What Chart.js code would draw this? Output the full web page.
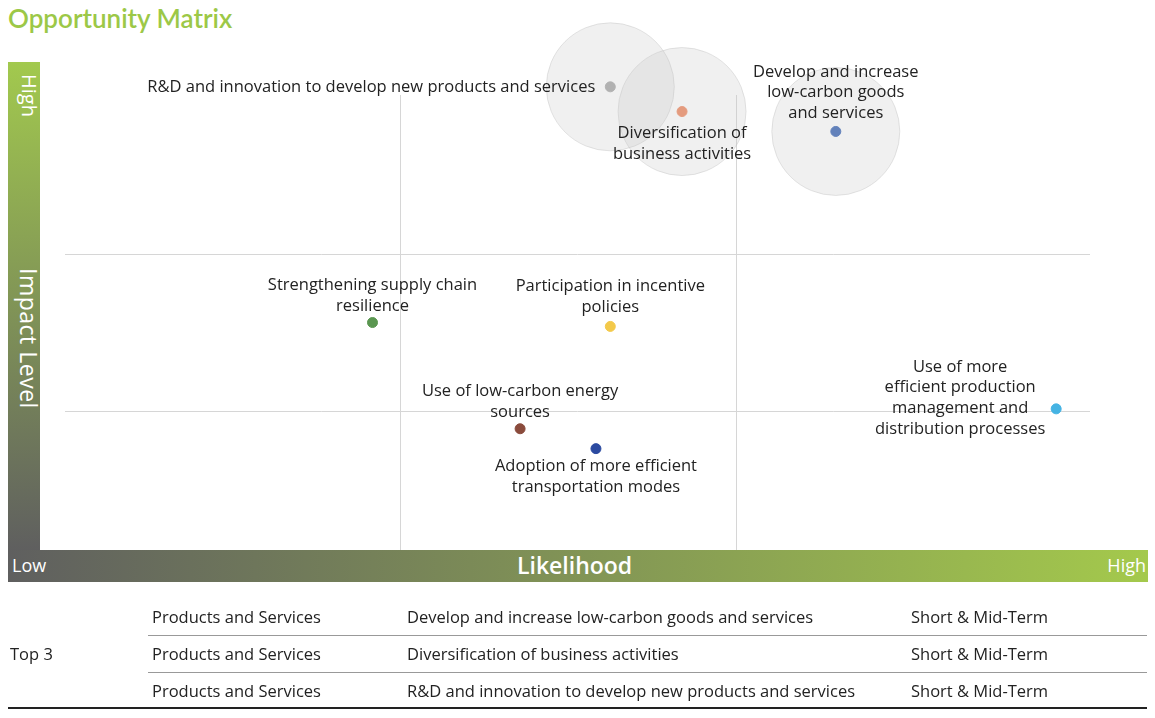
<!DOCTYPE html>
<html><head><meta charset="utf-8">
<script src="https://cdn.jsdelivr.net/npm/chart.js@4/dist/chart.umd.min.js"></script>
<style>
body{margin:0;width:1155px;height:718px;background:#fff;font-family:"Open Sans",Lato,sans-serif;overflow:hidden;position:relative}
#wrap{position:absolute;left:0;top:0;width:1155px;height:718px}
.title{position:absolute;left:8px;top:2px;font-size:26px;color:#9cc847;font-weight:600;font-family:Lato,sans-serif}
.vbar{position:absolute;left:8px;top:62px;width:32px;height:488px;background:linear-gradient(#a2c94e,#5f5f5f)}
.hbar{position:absolute;left:8px;top:550px;width:1140px;height:32px;background:linear-gradient(90deg,#5f5f5f,#a4c94c);color:#fff}
.vt{position:absolute;color:#fff;transform:rotate(90deg);transform-origin:left top;white-space:nowrap}
.row{position:absolute;left:148px;width:999px;height:37px;border-bottom:1px solid #999;font-size:16.5px;color:#222}
.row span{position:absolute;top:7px}
</style></head><body>
<div class="title">Opportunity Matrix</div>
<div class="vbar">
 <div class="vt" style="left:35px;top:12px;font-size:20px">High</div>
 <div class="vt" style="left:37px;top:206px;font-size:23px;letter-spacing:0.5px">Impact Level</div>
</div>
<div class="hbar">
 <span style="position:absolute;left:4px;top:3px;font-size:18px">Low</span>
 <span style="position:absolute;left:509px;top:-1px;font-size:23px;font-weight:600">Likelihood</span>
 <span style="position:absolute;right:2px;top:3px;font-size:18px">High</span>
</div>
<div id="wrap"><canvas id="c" width="1155" height="718"></canvas></div>
<div id="tbl"></div>
<div style="position:absolute;left:10px;top:642px;font-size:16.5px;color:#222">Top 3</div>
<div style="position:absolute;left:8px;top:707px;width:1139px;height:2px;background:#222"></div>
<script>
const names=["R&D and innovation to develop new products and services","Diversification of business activities","Develop and increase low-carbon goods and services","Strengthening supply chain resilience","Participation in incentive policies","Use of more efficient production management and distribution processes","Use of low-carbon energy sources","Adoption of more efficient transportation modes"];
const labelLines=[["R&D and innovation to develop new products and services"],["Diversification of","business activities"],["Develop and increase","low-carbon goods","and services"],["Strengthening supply chain","resilience"],["Participation in incentive","policies"],["Use of more","efficient production","management and","distribution processes"],["Use of low-carbon energy","sources"],["Adoption of more efficient","transportation modes"]];
const likelihood=[53.2,60.2,75.2,30.0,53.2,96.7,44.4,51.8];
const impact=[95.5,90.4,86.3,46.9,46.1,29.1,25.0,20.9];
const top3=[2,1,0];
const xGrid=[32.7,65.5], yGrid=[28.7,61.1];
const tableRows=[["Products and Services","Develop and increase low-carbon goods and services","Short & Mid-Term"],["Products and Services","Diversification of business activities","Short & Mid-Term"],["Products and Services","R&D and innovation to develop new products and services","Short & Mid-Term"]];
// style
const colors=["#a8a8a8","#ef8a62","#3b66b5","#5a9650","#f3c94a","#45b3e3","#8a4b3c","#2b4aa0"];
const place=[{dx:-15,dy:[0],al:"right"},{dx:0,dy:[22,43]},{dx:0,dy:[-59,-39,-18]},{dx:0,dy:[-37,-16]},{dx:0,dy:[-40,-19]},{dx:-96,dy:[-42,-22,-1,20]},{dx:0,dy:[-37,-16]},{dx:0,dy:[18,39]}];
let h='';tableRows.forEach((r,i)=>{h+=`<div class="row" style="top:${598+i*37}px;${i==2?'border:none':''}"><span style="left:4px">${r[0]}</span><span style="left:259px">${r[1]}</span><span style="left:763px">${r[2]}</span></div>`});
document.getElementById('tbl').innerHTML=h;
const gridPlugin={id:'g',beforeDatasetsDraw(ch){const c=ch.ctx,a=ch.chartArea,x=ch.scales.x,y=ch.scales.y;c.save();c.strokeStyle='#d6d6d6';c.lineWidth=1;
xGrid.forEach(v=>{const p=Math.round(x.getPixelForValue(v))+0.5;c.beginPath();c.moveTo(p,a.top+30);c.lineTo(p,a.bottom);c.stroke();});
yGrid.forEach(v=>{const p=Math.round(y.getPixelForValue(v))+0.5;c.beginPath();c.moveTo(a.left,p);c.lineTo(a.right,p);c.stroke();});c.restore();},
afterDatasetsDraw(ch){const c=ch.ctx;const m=ch.getDatasetMeta(1);c.save();c.font='16.5px "Open Sans", Lato, sans-serif';c.fillStyle='#222';c.textBaseline='middle';
m.data.forEach((el,i)=>{const p=place[i];c.textAlign=p.al||'center';labelLines[i].forEach((t,k)=>c.fillText(t,el.x+p.dx,el.y+p.dy[k]));});c.restore();}};
new Chart(document.getElementById('c'),{
data:{datasets:[
{type:'bubble',data:top3.map(i=>({x:likelihood[i],y:impact[i],r:64})),backgroundColor:'rgba(200,200,200,0.28)',borderColor:'rgba(190,190,190,0.4)',borderWidth:1,clip:false},
{type:'scatter',data:likelihood.map((v,i)=>({x:v,y:impact[i]})),backgroundColor:colors,borderColor:colors,pointRadius:5,pointHoverRadius:5,clip:false}
]},
options:{responsive:false,animation:false,events:[],layout:{padding:{left:40,top:62,right:10,bottom:168}},
plugins:{legend:{display:false},tooltip:{enabled:false}},
scales:{x:{type:'linear',min:0,max:100,display:false},y:{type:'linear',min:0,max:100,display:false}}},
plugins:[gridPlugin]});
</script>
</body></html>
